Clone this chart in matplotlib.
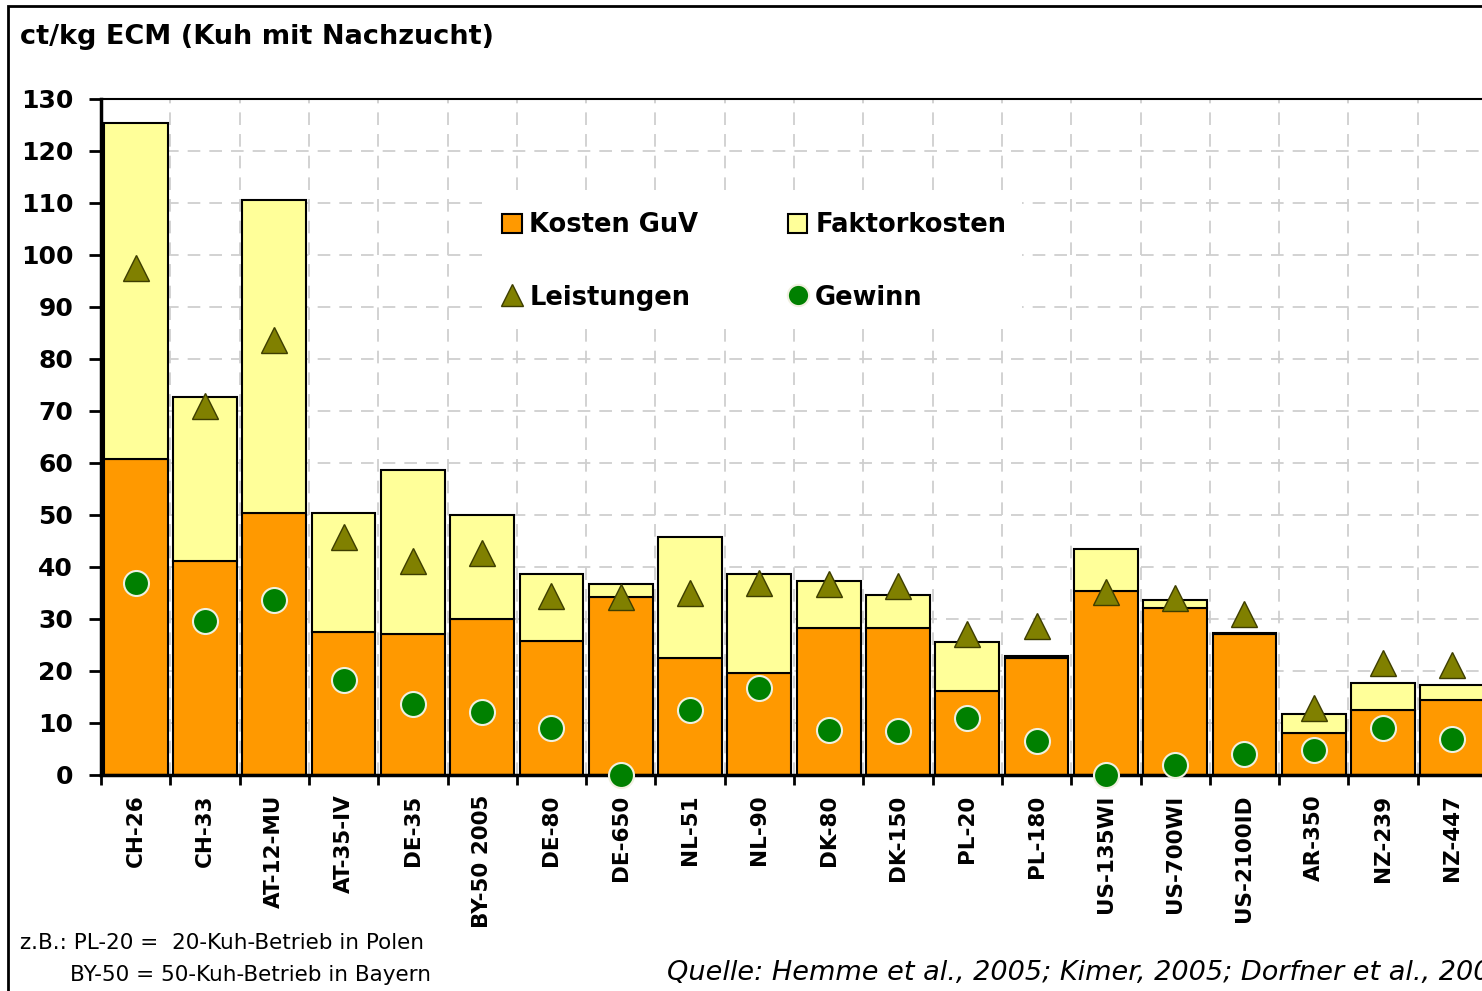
import matplotlib
matplotlib.use('Agg')
import matplotlib.pyplot as plt
import numpy as np
from matplotlib.patches import Rectangle
from matplotlib.ticker import MultipleLocator, FixedLocator

# Data (ct/kg ECM)
betriebe = ['CH-26', 'CH-33', 'AT-12-MU', 'AT-35-IV', 'DE-35', 'BY-50 2005', 'DE-80',
            'DE-650', 'NL-51', 'NL-90', 'DK-80', 'DK-150', 'PL-20', 'PL-180',
            'US-135WI', 'US-700WI', 'US-2100ID', 'AR-350', 'NZ-239', 'NZ-447']
kosten_guv = [60.8, 41.2, 50.4, 27.5, 27.1, 30.0, 25.8, 34.2, 22.5, 19.6,
              28.3, 28.3, 16.2, 22.5, 35.4, 32.1, 27.1, 8.1, 12.5, 14.4]
gesamt = [125.4, 72.7, 110.6, 50.4, 58.7, 50.0, 38.7, 36.7, 45.8, 38.7,
          37.3, 34.6, 25.6, 22.8, 43.5, 33.7, 27.4, 11.7, 17.7, 17.3]
faktorkosten = [g - k for g, k in zip(gesamt, kosten_guv)]
leistungen = [97.5, 71.0, 83.7, 45.8, 41.2, 42.7, 34.4, 34.2, 35.0, 36.9,
              36.7, 36.3, 27.1, 28.7, 35.2, 34.0, 31.0, 12.9, 21.5, 21.2]
gewinn = [36.9, 29.6, 33.7, 18.3, 13.7, 12.1, 9.0, 0.0, 12.5, 16.7,
          8.7, 8.5, 11.0, 6.5, 0.0, 1.9, 4.0, 4.8, 9.0, 6.9]

plt.rcParams['font.family'] = ['DejaVu Sans']

fig = plt.figure(figsize=(14.82, 9.91), dpi=100)
ax = fig.add_axes([101 / 1482, 1 - 775 / 991, 1386 / 1482, 676 / 991])

x = np.arange(len(betriebe))
b1 = ax.bar(x, kosten_guv, width=0.92, color='#FF9900', edgecolor='black', linewidth=1.5,
            label='Kosten GuV', zorder=2)
b2 = ax.bar(x, faktorkosten, bottom=kosten_guv, width=0.92, color='#FFFF99', edgecolor='black',
            linewidth=1.5, label='Faktorkosten', zorder=2)
l1, = ax.plot(x, leistungen, linestyle='none', marker='^', markersize=19, color='#808000',
              markeredgecolor='#3d3d00', markeredgewidth=1, label='Leistungen', zorder=4)
l2, = ax.plot(x, gewinn, linestyle='none', marker='o', markersize=18, color='#008000',
              markeredgecolor='#f0f0e0', markeredgewidth=1.5, label='Gewinn', zorder=4,
              clip_on=False)

ax.set_xlim(-0.5, len(betriebe) - 0.5)
ax.set_ylim(0, 130)
ax.yaxis.set_major_locator(MultipleLocator(10))
ax.set_xticks(x)
ax.set_xticklabels(betriebe, rotation=90, fontsize=15.5, fontweight='bold')
ax.xaxis.set_minor_locator(FixedLocator(np.arange(-0.5, len(betriebe), 1.0)))
ax.tick_params(axis='x', which='major', length=0, pad=14)
ax.tick_params(axis='x', which='minor', length=7, width=2, direction='out')
ax.tick_params(axis='y', length=9, width=2, direction='out', labelsize=18, pad=11)
for lbl in ax.get_yticklabels():
    lbl.set_fontweight('bold')

ax.grid(True, axis='y', which='major', color='#cfcfcf', linestyle=(0, (7, 5)), linewidth=1.3, zorder=0)
ax.grid(True, axis='x', which='minor', color='#cfcfcf', linestyle=(0, (7, 5)), linewidth=1.3, zorder=0)
ax.set_axisbelow(True)
ax.spines['left'].set_linewidth(2.5)
ax.spines['bottom'].set_linewidth(2.5)
ax.spines['top'].set_linewidth(1.5)
ax.spines['right'].set_visible(False)

leg = ax.legend([b1, l1, b2, l2], ['Kosten GuV', 'Leistungen', 'Faktorkosten', 'Gewinn'],
                ncol=2, loc='upper left', bbox_to_anchor=(474 / 1482, 1 - 184 / 991),
                bbox_transform=fig.transFigure, frameon=True, facecolor='white',
                edgecolor='none', framealpha=1, fancybox=False,
                prop={'size': 18.5, 'weight': 'bold'}, labelspacing=1.8,
                handlelength=0.75, handleheight=0.75, handletextpad=0.3,
                columnspacing=3.5, borderpad=0.6, markerscale=0.85)
leg.set_zorder(3)

fig.text(20 / 1482, 1 - 37 / 991, 'ct/kg ECM (Kuh mit Nachzucht)', fontsize=19.5,
         fontweight='bold', va='center', ha='left')

fig.text(20 / 1482, 1 - 943 / 991, 'z.B.: PL-20 =  20-Kuh-Betrieb in Polen', fontsize=15.5,
         va='center', ha='left')
fig.text(70 / 1482, 1 - 975 / 991, 'BY-50 = 50-Kuh-Betrieb in Bayern', fontsize=15.5,
         va='center', ha='left')
# source line runs past the right edge, as in the original slide
fig.text(667 / 1482, 1 - 973 / 991, 'Quelle: Hemme et al., 2005; Kimer, 2005; Dorfner et al., 2006',
         fontsize=19.5, style='italic', va='center', ha='left')

# outer frame of the slide
fig.patches.append(Rectangle((8 / 1482, -0.1), 1.2, 1.1 - 6 / 991, transform=fig.transFigure,
                             fill=False, edgecolor='black', linewidth=2, figure=fig))

fig.savefig('out.png', dpi=100)
